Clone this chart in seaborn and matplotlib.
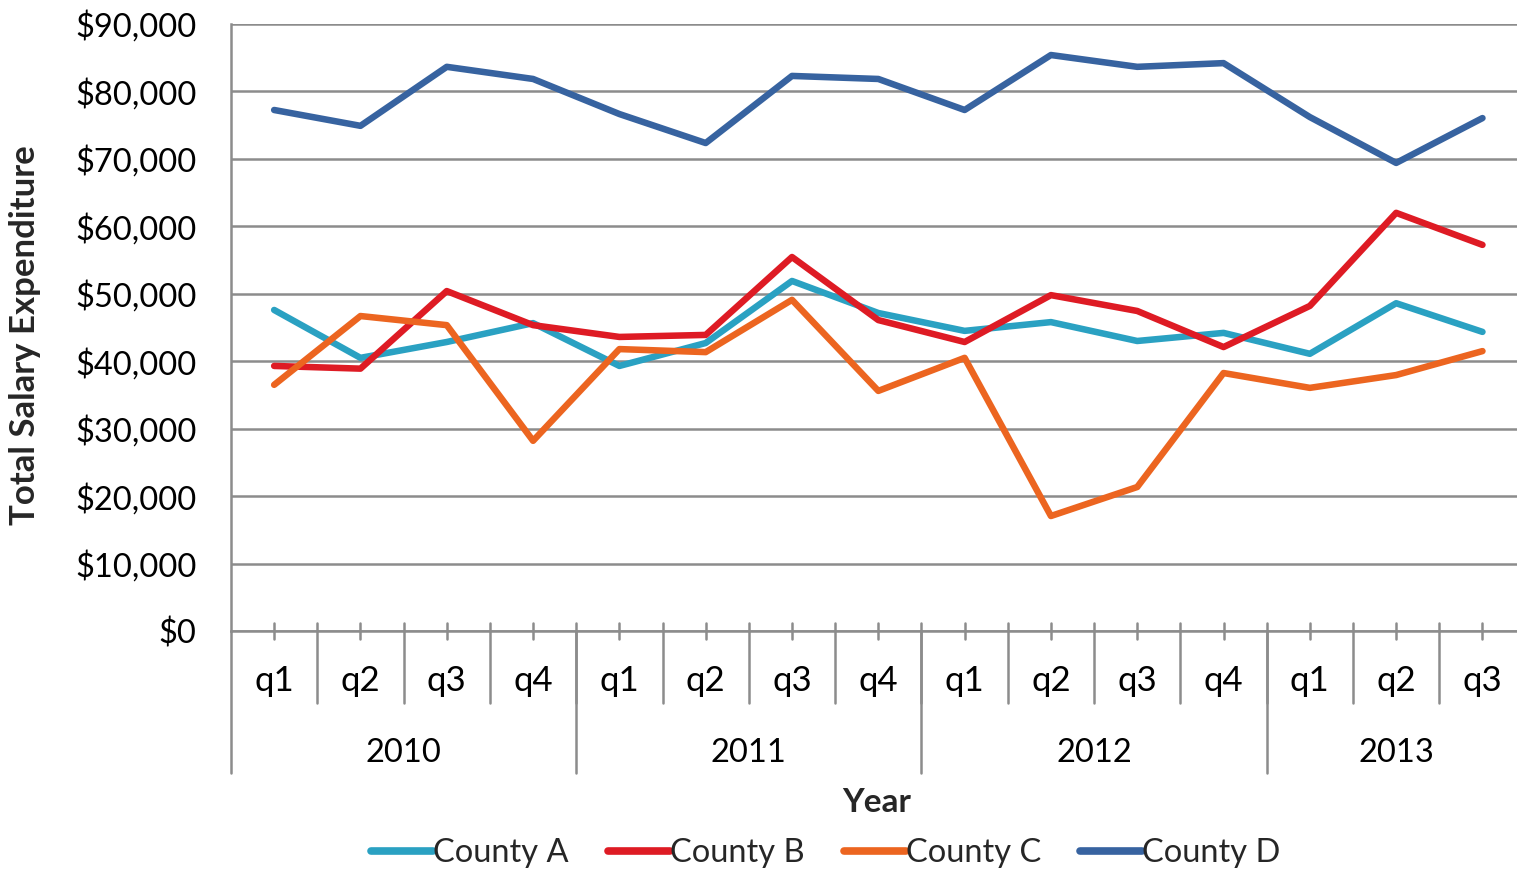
import numpy as np
import pandas as pd
import matplotlib
matplotlib.use("Agg")
import matplotlib.pyplot as plt
from matplotlib.lines import Line2D
from matplotlib.transforms import blended_transform_factory
from matplotlib.ticker import FuncFormatter
import seaborn as sns

years = ["2010", "2011", "2012", "2013"]
year_counts = [4, 4, 4, 3]
quarters = ["q1", "q2", "q3", "q4", "q1", "q2", "q3", "q4",
            "q1", "q2", "q3", "q4", "q1", "q2", "q3"]

county_a = [47600, 40500, 42850, 45650, 39300, 42700, 51900, 47150,
            44500, 45800, 43000, 44200, 41100, 48600, 44350]
county_b = [39300, 38900, 50400, 45350, 43600, 43900, 55450, 46100,
            42850, 49800, 47450, 42100, 48200, 62000, 57250]
county_c = [36500, 46700, 45350, 28200, 41800, 41350, 49100, 35600,
            40500, 17050, 21350, 38250, 36050, 37950, 41500]
county_d = [77250, 74900, 83650, 81850, 76650, 72350, 82300, 81850,
            77250, 85400, 83650, 84200, 76200, 69400, 76050]

series_names = ["County A", "County B", "County C", "County D"]
colors = ["#2AA1C2", "#DE1B24", "#EC6520", "#3763A0"]

sns.set_theme(style="white")
plt.rcParams['font.family'] = ['Lato', 'DejaVu Sans']

W, H = 1517, 869
fig = plt.figure(figsize=(W / 100, H / 100), dpi=100)
ax = fig.add_axes([231 / W, (H - 631) / H, (W - 231) / W, 607 / H])

idx = np.arange(len(quarters))
frames = []
for name, vals in zip(series_names, [county_a, county_b, county_c, county_d]):
    frames.append(pd.DataFrame({"idx": idx, "value": vals, "county": name}))
df = pd.concat(frames, ignore_index=True)

sns.lineplot(data=df, x="idx", y="value", hue="county", hue_order=series_names,
             palette=colors, linewidth=4.7, ax=ax, legend=False,
             solid_capstyle="round", solid_joinstyle="round")

ax.set_xlim(-0.5, len(quarters) - 0.5 - 0.1)
ax.set_ylim(0, 90000)
ax.set_yticks(np.arange(0, 90001, 10000))
ax.yaxis.set_major_formatter(FuncFormatter(lambda v, p: f"${v:,.0f}"))
ax.tick_params(axis="y", length=0, pad=25, labelsize=23.5, colors="black")
ax.set_xticks([])
ax.set_xlabel("")
ax.set_ylabel("")
ax.yaxis.grid(True, color="#8C8C8C", linewidth=1.8)
ax.set_axisbelow(True)
for s in ["top", "right"]:
    ax.spines[s].set_visible(False)
for s in ["left", "bottom"]:
    ax.spines[s].set_color("#8C8C8C")
    ax.spines[s].set_linewidth(1.8)

trans = blended_transform_factory(ax.transData, ax.transAxes)
gray = "#8C8C8C"
# tick marks at category centers
for i in idx:
    ax.plot([i, i], [-0.013, 0.013], color=gray, lw=1.8, transform=trans, clip_on=False)
    ax.text(i, -0.083, quarters[i], transform=trans, ha="center", va="center",
            fontsize=25, color="black")
# separators between quarters
for i in idx[:-1]:
    ax.plot([i + 0.5, i + 0.5], [0.013, -0.1186], color=gray, lw=1.8,
            transform=trans, clip_on=False)
# year separators and labels
start = 0
ax.plot([-0.5, -0.5], [0, -0.234], color=gray, lw=1.8, transform=trans, clip_on=False)
for y, c in zip(years, year_counts):
    end = start + c
    if end < len(quarters):
        ax.plot([end - 0.5, end - 0.5], [0, -0.234], color=gray, lw=1.8,
                transform=trans, clip_on=False)
    ax.text((start + end - 1) / 2, -0.201, y, transform=trans, ha="center",
            va="center", fontsize=23.5, color="black")
    start = end

fig.text(877 / W, (H - 803) / H, "Year", ha="center", va="center",
         fontsize=24, fontweight="bold")
fig.text(25 / W, (H - 335) / H, "Total Salary Expenditure", ha="center",
         va="center", rotation=90, fontsize=25, fontweight="bold")

handles = [Line2D([0], [0], color=c, lw=5.5, solid_capstyle="round") for c in colors]
fig.legend(handles, series_names, loc="center", bbox_to_anchor=(826 / W, (H - 853) / H),
           ncol=4, frameon=False, fontsize=23.5, handlelength=1.9, handletextpad=0.0,
           columnspacing=1.2, borderpad=0)

fig.savefig("out.png", dpi=100)
